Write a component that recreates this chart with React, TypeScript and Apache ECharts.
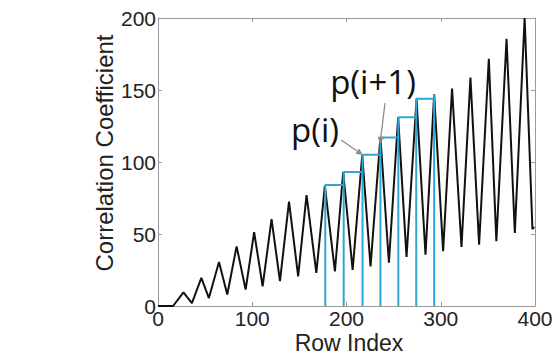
import React, { useEffect, useRef } from "react";
import * as echarts from "echarts";

// Black curve: row index and correlation coefficient (peaks and troughs)
const rowIndex = [
  0, 16, 27, 36, 46, 54, 64.7, 73.5, 83.4, 93, 102, 111, 120.5, 129.4, 139, 148.7,
  157.6, 168, 177, 187.7, 196.5, 206.5, 216.7, 225.5, 236, 245, 254.8, 263.7,
  274.3, 283.8, 293, 302.5, 312, 322, 331.5, 340.7, 351, 359, 369.8, 378.6, 389,
  397.3, 399,
];
const coefficient = [
  0, 0, 9.5, 2, 19.5, 5.5, 30.6, 8, 41.4, 11.4, 51.3, 13.7, 60.3, 17.2, 72.5, 20.6,
  77, 23, 83.4, 24, 93, 25, 104.8, 27.5, 117.5, 30, 131, 34, 143.6, 35.6, 147, 38,
  151, 41, 158.6, 42.5, 171.7, 45, 185.6, 50.7, 200, 53.4, 55,
];

// Blue staircase: p(i) at each step start
const stepRows = [177.5, 197, 217, 236, 255, 274, 293];
const stepValues = [84, 93, 105, 117, 131, 144, 147];

const xTicks = { min: 0, max: 400, interval: 100 };
const yTicks = { min: 0, max: 200, interval: 50 };

const curveData = rowIndex.map((r, i) => [r, coefficient[i]]);

const stepData: number[][] = [];
stepRows.forEach((r, i) => {
  stepData.push([r, 0]);
  stepData.push([r, stepValues[i]]);
  if (i < stepRows.length - 1) {
    stepData.push([stepRows[i + 1], stepValues[i]]);
    stepData.push([stepRows[i + 1], 0]);
  }
});

function arrow(x1: number, y1: number, x2: number, y2: number, color: string) {
  const dx = x2 - x1;
  const dy = y2 - y1;
  const len = Math.sqrt(dx * dx + dy * dy);
  const ux = dx / len;
  const uy = dy / len;
  const hl = 7;
  const hw = 3.2;
  const bx = x2 - ux * hl;
  const by = y2 - uy * hl;
  return [
    {
      type: "line",
      shape: { x1, y1, x2: bx, y2: by },
      style: { stroke: color, lineWidth: 1.3 },
      z: 100,
    },
    {
      type: "polygon",
      shape: {
        points: [
          [x2, y2],
          [bx - uy * hw, by + ux * hw],
          [bx + uy * hw, by - ux * hw],
        ],
      },
      style: { fill: color },
      z: 100,
    },
  ];
}

export default function App() {
  const ref = useRef<HTMLDivElement>(null);
  useEffect(() => {
    if (!ref.current) return;
    const chart = echarts.init(ref.current, undefined, { renderer: "svg" });
    const axisColor = "#9a9a9a";
    const labelStyle = {
      fontSize: 21,
      fontFamily: "Liberation Sans",
      color: "#222",
    };
    const baseX = {
      type: "value",
      ...xTicks,
      axisLine: { show: true, onZero: false, lineStyle: { color: axisColor, width: 1 } },
      axisTick: { show: true, inside: true, length: 4, lineStyle: { color: axisColor } },
      splitLine: { show: false },
    };
    const baseY = {
      type: "value",
      ...yTicks,
      axisLine: { show: true, onZero: false, lineStyle: { color: axisColor, width: 1 } },
      axisTick: { show: true, inside: true, length: 4, lineStyle: { color: axisColor } },
      splitLine: { show: false },
    };
    chart.setOption({
      animation: false,
      backgroundColor: "#fff",
      grid: { left: 158, right: 25, top: 18, bottom: 57, containLabel: false },
      xAxis: [
        { ...baseX, position: "bottom", axisLabel: { ...labelStyle, margin: 2 } },
        { ...baseX, position: "top", axisLabel: { show: false } },
      ],
      yAxis: [
        { ...baseY, position: "left", axisLabel: { ...labelStyle, margin: 2 } },
        { ...baseY, position: "right", axisLabel: { show: false } },
      ],
      series: [
        {
          type: "line",
          data: curveData,
          symbol: "none",
          lineStyle: { color: "#111", width: 2 },
          z: 2,
        },
        {
          type: "line",
          data: stepData,
          symbol: "none",
          lineStyle: { color: "#29a8d8", width: 2 },
          z: 3,
        },
      ],
      graphic: [
        {
          type: "text",
          x: 104,
          y: 153,
          rotation: Math.PI / 2,
          style: {
            text: "Correlation Coefficient",
            fontSize: 24,
            fontFamily: "Liberation Sans",
            fill: "#222",
            align: "center",
            verticalAlign: "middle",
          },
        },
        {
          type: "text",
          x: 349,
          y: 343,
          style: {
            text: "Row Index",
            fontSize: 23,
            fontFamily: "Liberation Sans",
            fill: "#222",
            align: "center",
            verticalAlign: "middle",
          },
        },
        {
          type: "text",
          x: 315,
          y: 129,
          style: {
            text: "p(i)",
            fontSize: 33,
            fontFamily: "Open Sans",
            fill: "#111",
            align: "center",
            verticalAlign: "middle",
          },
          z: 100,
        },
        {
          type: "text",
          x: 373,
          y: 81,
          style: {
            text: "p(i+1)",
            fontSize: 33,
            fontFamily: "Open Sans",
            fill: "#111",
            align: "center",
            verticalAlign: "middle",
          },
          z: 100,
        },
        ...arrow(341, 140, 363, 155, "#8c8c8c"),
        ...arrow(385, 103, 380, 144, "#8c8c8c"),
      ],
    });
    return () => chart.dispose();
  }, []);
  return (
    <div
      ref={ref}
      style={{ position: "fixed", left: 0, top: 0, width: 560, height: 363 }}
    />
  );
}
